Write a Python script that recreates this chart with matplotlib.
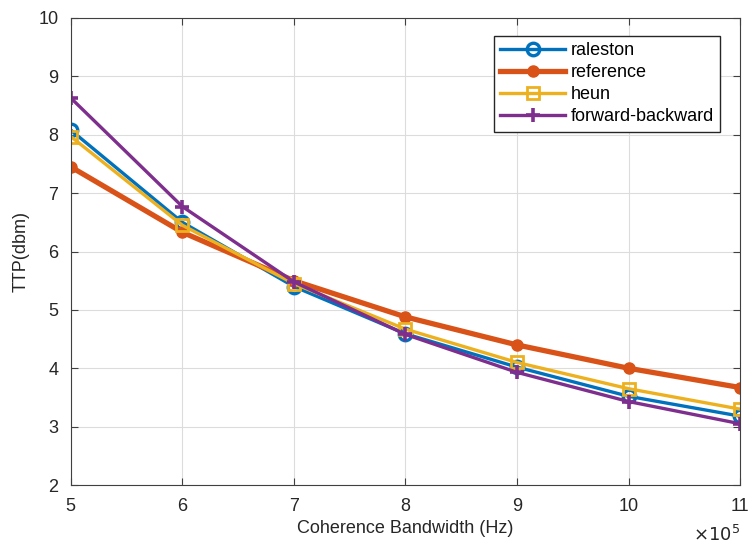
import numpy as np
import matplotlib.pyplot as plt
from matplotlib.ticker import FuncFormatter

plt.rcParams['font.family'] = ['Liberation Sans', 'DejaVu Sans']

# Данные
bandwidth = [5e5, 6e5, 7e5, 8e5, 9e5, 10e5, 11e5]
raleston = [8.08, 6.50, 5.40, 4.59, 4.02, 3.52, 3.18]
reference = [7.45, 6.33, 5.50, 4.88, 4.40, 4.00, 3.67]
heun = [7.97, 6.45, 5.45, 4.67, 4.10, 3.65, 3.30]
forward_backward = [8.63, 6.77, 5.48, 4.58, 3.93, 3.43, 3.05]

fig = plt.figure(figsize=(7.53, 5.45), dpi=100)
ax = fig.add_axes([0.094, 0.110, 0.889, 0.857])

ax.plot(bandwidth, raleston, '-o', color='#0072BD', lw=2.4, ms=9,
        mfc='none', mew=2.4, label='raleston')
ax.plot(bandwidth, reference, '-o', color='#D95319', lw=3.8, ms=8,
        label='reference')
ax.plot(bandwidth, heun, '-s', color='#EDB120', lw=2.4, ms=8,
        mfc='none', mew=2, label='heun')
ax.plot(bandwidth, forward_backward, '-+', color='#7E2F8E', lw=2.4, ms=10,
        mew=2.6, label='forward-backward')

ax.set_xlim(5e5, 11e5)
ax.set_ylim(2, 10)
ax.set_yticks(range(2, 11))
ax.set_xticks(bandwidth)
ax.xaxis.set_major_formatter(FuncFormatter(lambda v, p: '%g' % (v / 1e5)))

ax.grid(True, color='#dcdcdc', lw=0.8)
ax.set_axisbelow(True)
for s in ax.spines.values():
    s.set_color('#404040')
ax.tick_params(direction='in', labelsize=13, colors='#404040', length=5,
               top=True, right=True, pad=9)
for lab in ax.get_xticklabels() + ax.get_yticklabels():
    lab.set_color('#262626')

ax.text(1.0, -0.085, r'$\times10^{5}$', transform=ax.transAxes,
        ha='right', va='top', fontsize=13, color='#262626')

ax.set_xlabel('Coherence Bandwidth (Hz)', fontsize=13, color='#262626',
              labelpad=4)
ax.set_ylabel('TTP(dbm)', fontsize=13, color='#262626', labelpad=6)

ax.legend(loc='upper right', bbox_to_anchor=(0.97, 0.962), fontsize=13,
          fancybox=False, edgecolor='#262626', framealpha=1,
          handlelength=3.6, borderpad=0.35, labelspacing=0.28,
          handletextpad=0.3, borderaxespad=0)

fig.savefig('out.png', dpi=100)
